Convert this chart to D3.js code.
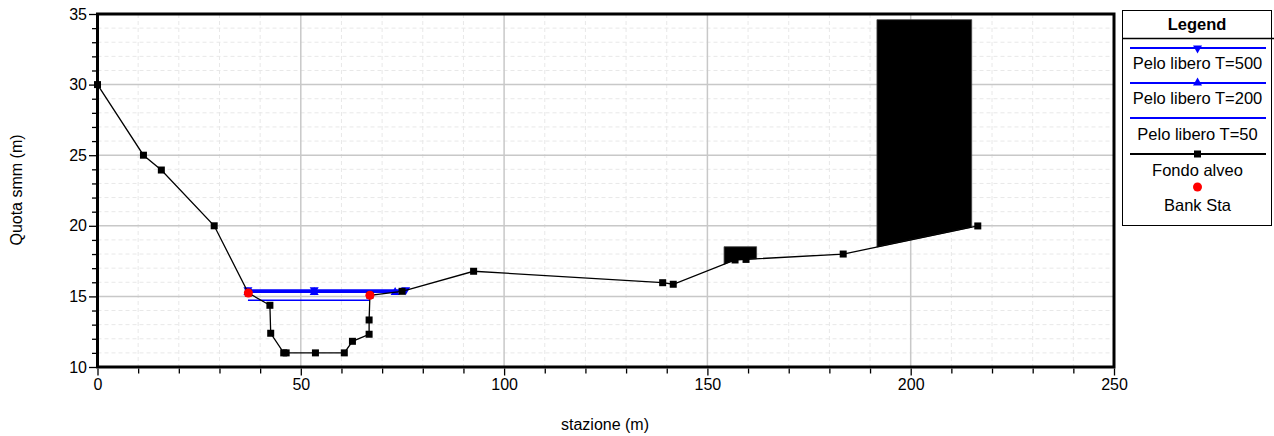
<!DOCTYPE html>
<html><head><meta charset="utf-8">
<script src="https://cdn.jsdelivr.net/npm/d3@7"></script>
<style>
body{margin:0;background:#fff;}
text{font-family:"Liberation Sans",Arial,sans-serif;}
</style></head>
<body><svg id="c" width="1274" height="436"></svg>
<script>
// ---- data ----
const groundX = [0,11.3,15.7,28.7,37.1,42.4,42.6,45.8,46.4,53.6,60.7,62.7,66.8,66.8,67.0,74.9,92.5,139.0,141.6,156.8,159.5,183.4,216.5];
const groundY = [30,25.0,23.95,20.0,15.24,14.37,12.39,11.0,11.0,11.0,11.0,11.82,12.32,13.33,15.08,15.36,16.78,15.97,15.86,17.58,17.62,18.0,19.99];
const bankX = [37.1,67.0];
const bankY = [15.24,15.08];
const ws500X = [37.0,53.3,75.8];
const ws500Y = [15.40,15.40,15.40];
const ws200X = [37.0,53.3,73.2];
const ws200Y = [15.34,15.34,15.34];
const ws50X = [37.0,67.0];
const ws50Y = [14.72,14.72];
const obsStart = [154.1,191.7];
const obsEnd = [162.1,215.0];
const obsTop = [18.52,34.6];
const xTicks = [0,50,100,150,200,250];
const yTicks = [10,15,20,25,30,35];
const legendLabels = ["Pelo libero T=500","Pelo libero T=200","Pelo libero T=50","Fondo alveo","Bank Sta"];

const svg = d3.select("#c");
const L=97.5,R=1114,T=14,B=367;
const x = d3.scaleLinear().domain([0,250]).range([L,R]);
const y = d3.scaleLinear().domain([10,35]).range([B,T]);

// grid
const g = svg.append("g");
g.selectAll(".mx").data(d3.range(0,251,10).filter(v=>v%50!==0)).join("line")
 .attr("x1",d=>x(d)).attr("x2",d=>x(d)).attr("y1",T).attr("y2",B)
 .attr("stroke","#e8e8e8").attr("stroke-dasharray","4,3");
g.selectAll(".my").data(d3.range(10,36,1).filter(v=>v%5!==0)).join("line")
 .attr("y1",d=>y(d)).attr("y2",d=>y(d)).attr("x1",L).attr("x2",R)
 .attr("stroke","#e8e8e8").attr("stroke-dasharray","4,3");
g.selectAll(".Mx").data(xTicks.slice(1,-1)).join("line")
 .attr("x1",d=>x(d)).attr("x2",d=>x(d)).attr("y1",T).attr("y2",B)
 .attr("stroke","#c8c8c8").attr("stroke-width",1.5);
g.selectAll(".My").data(yTicks.slice(1,-1)).join("line")
 .attr("y1",d=>y(d)).attr("y2",d=>y(d)).attr("x1",L).attr("x2",R)
 .attr("stroke","#c8c8c8").attr("stroke-width",1.5);

// obstructions
const ground = groundX.map((v,i)=>[v,groundY[i]]);
function gAt(xv){
  for(let i=0;i<ground.length-1;i++){
    const a=ground[i],b=ground[i+1];
    if(xv>=a[0]&&xv<=b[0]){ if(b[0]===a[0]) return a[1]; return a[1]+(b[1]-a[1])*(xv-a[0])/(b[0]-a[0]); }
  }
  return ground[ground.length-1][1];
}
obsStart.forEach((x0,i)=>{
  const x1=obsEnd[i];
  const pts=[[x0,obsTop[i]],[x1,obsTop[i]],[x1,gAt(x1)]];
  ground.filter(p=>p[0]>x0&&p[0]<x1).reverse().forEach(p=>pts.push(p));
  pts.push([x0,gAt(x0)]);
  svg.append("path").attr("d",d3.line().x(d=>x(d[0])).y(d=>y(d[1]))(pts)+"Z")
   .attr("fill","#000").attr("stroke","#444").attr("stroke-width",0.8);
});

const line = d3.line().x(d=>x(d[0])).y(d=>y(d[1]));
// water surfaces
const w50 = ws50X.map((v,i)=>[v,ws50Y[i]]);
const w200 = ws200X.map((v,i)=>[v,ws200Y[i]]);
const w500 = ws500X.map((v,i)=>[v,ws500Y[i]]);
svg.append("path").attr("d",line(w50)).attr("fill","none").attr("stroke","#0000ff").attr("stroke-width",1.5);
svg.append("path").attr("d",line(w200)).attr("fill","none").attr("stroke","#0000ff").attr("stroke-width",2.8);
svg.append("path").attr("d",line(w500)).attr("fill","none").attr("stroke","#0000ff").attr("stroke-width",2.8);
function triUp(){return "M-4.5,3.5L4.5,3.5L0,-4.5Z";}
function triDown(){return "M-4.5,-3.5L4.5,-3.5L0,4.5Z";}
svg.selectAll(".t2").data(w200).join("path").attr("d",triUp())
 .attr("transform",d=>`translate(${x(d[0])},${y(d[1])})`).attr("fill","#0000ff");
svg.selectAll(".t5").data(w500).join("path").attr("d",triDown())
 .attr("transform",d=>`translate(${x(d[0])},${y(d[1])})`).attr("fill","#0000ff");

// ground
svg.append("path").attr("d",line(ground)).attr("fill","none").attr("stroke","#000").attr("stroke-width",1.3);
svg.selectAll(".gp").data(ground).join("rect")
 .attr("x",d=>x(d[0])-3.5).attr("y",d=>y(d[1])-3.5).attr("width",7).attr("height",7).attr("fill","#000");
// bank stations
svg.selectAll(".bk").data(bankX.map((v,i)=>[v,bankY[i]])).join("circle")
 .attr("cx",d=>x(d[0])).attr("cy",d=>y(d[1])).attr("r",4.5).attr("fill","#ff0000");

// frame
svg.append("rect").attr("x",L).attr("y",T).attr("width",R-L).attr("height",B-T)
 .attr("fill","none").attr("stroke","#000").attr("stroke-width",3);

// axes
const xa = svg.append("g").attr("transform",`translate(0,${B+1.5})`)
 .call(d3.axisBottom(x).tickValues(d3.range(0,251,10)).tickSize(5).tickFormat(d=>xTicks.includes(d)?d:""));
xa.select(".domain").remove();
xa.selectAll(".tick line").attr("stroke","#000").attr("stroke-width",1.3).attr("y2",d=>xTicks.includes(d)?7:5);
xa.selectAll(".tick text").attr("font-size",16).attr("dy","0.71em").attr("y",10).attr("font-family","Liberation Sans, Arial").attr("fill","#000");
const ya = svg.append("g").attr("transform",`translate(${L-1.5},0)`)
 .call(d3.axisLeft(y).tickValues(d3.range(10,35.01,1)).tickSize(4).tickFormat(d=>yTicks.includes(d)?d:""));
ya.select(".domain").remove();
ya.selectAll(".tick line").attr("stroke","#000").attr("stroke-width",1.3).attr("x2",d=>yTicks.includes(d)?-7:-4);
ya.selectAll(".tick text").attr("font-size",16).attr("x",-9).attr("font-family","Liberation Sans, Arial").attr("fill","#000");

svg.append("text").attr("x",605).attr("y",430).attr("text-anchor","middle").attr("font-size",16).text("stazione (m)");
svg.append("text").attr("transform","translate(22,190) rotate(-90)").attr("text-anchor","middle").attr("font-size",16).text("Quota smm (m)");

// legend
const lg = svg.append("g");
lg.append("rect").attr("x",1122.5).attr("y",10.5).attr("width",149).attr("height",215).attr("fill","#fff").attr("stroke","#000");
lg.append("line").attr("x1",1122.5).attr("x2",1274).attr("y1",38.5).attr("y2",38.5).attr("stroke","#000").attr("stroke-width",1.5);
lg.append("text").attr("x",1197).attr("y",30).attr("text-anchor","middle").attr("font-size",16.5).attr("font-weight","bold").text("Legend");
const lx1=1130,lx2=1266,lc=1197.5;
const rowsLineY=[48,83,118,154];
const rowsTextY=[69,104,140,176,211];
const colors=["#0000ff","#0000ff","#0000ff","#000"];
rowsLineY.forEach((ly,i)=>{
  lg.append("line").attr("x1",lx1).attr("x2",lx2).attr("y1",ly).attr("y2",ly).attr("stroke",colors[i]).attr("stroke-width",2);
});
lg.append("path").attr("d",triDown()).attr("transform",`translate(${lc},${rowsLineY[0]+1})`).attr("fill","#0000ff");
lg.append("path").attr("d",triUp()).attr("transform",`translate(${lc},${rowsLineY[1]-1})`).attr("fill","#0000ff");
lg.append("rect").attr("x",lc-3.5).attr("y",rowsLineY[3]-3.5).attr("width",7).attr("height",7).attr("fill","#000");
lg.append("circle").attr("cx",lc).attr("cy",187).attr("r",4.5).attr("fill","#ff0000");
legendLabels.forEach((t,i)=>{
  lg.append("text").attr("x",lc).attr("y",rowsTextY[i]).attr("text-anchor","middle").attr("font-size",16.5).text(t);
});
</script></body></html>
